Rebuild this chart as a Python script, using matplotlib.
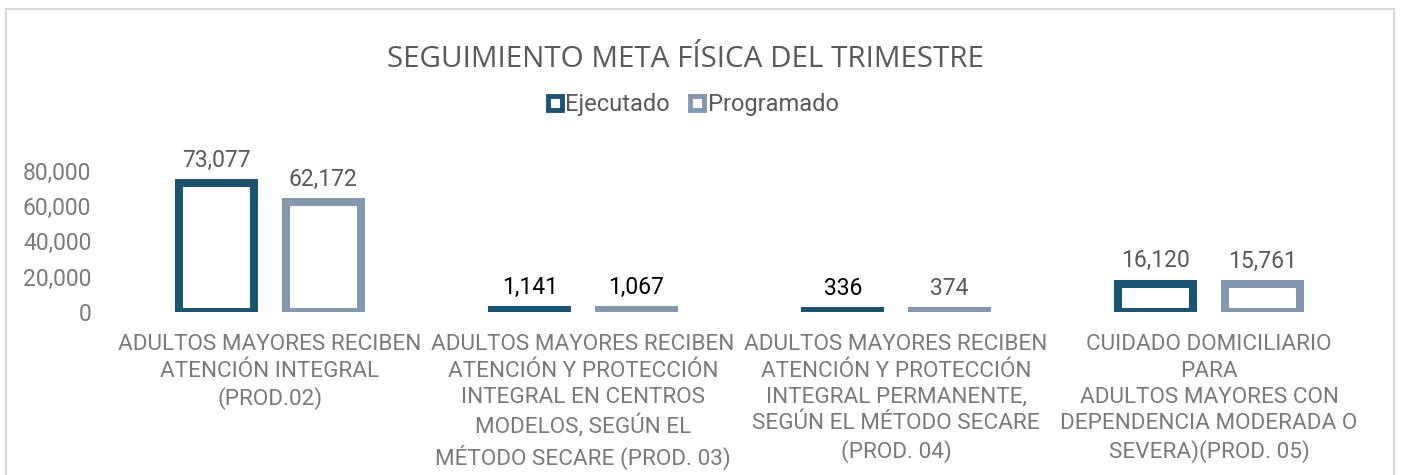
import numpy as np
import matplotlib.pyplot as plt
from matplotlib.lines import Line2D
from matplotlib.patches import Rectangle

categorias = [
    "ADULTOS MAYORES RECIBEN\nATENCIÓN INTEGRAL\n(PROD.02)",
    "ADULTOS MAYORES RECIBEN\nATENCIÓN Y PROTECCIÓN\nINTEGRAL EN CENTROS\nMODELOS, SEGÚN EL\nMÉTODO SECARE (PROD. 03)",
    "ADULTOS MAYORES RECIBEN\nATENCIÓN Y PROTECCIÓN\nINTEGRAL PERMANENTE,\nSEGÚN EL MÉTODO SECARE\n(PROD. 04)",
    "CUIDADO DOMICILIARIO\nPARA\nADULTOS MAYORES CON\nDEPENDENCIA MODERADA O\nSEVERA)(PROD. 05)",
]
ejecutado = [73077, 1141, 336, 16120]
programado = [62172, 1067, 374, 15761]
yticks = [0, 20000, 40000, 60000, 80000]

c_ejec = '#1b5470'
c_prog = '#8497ac'
gris = '#7a7a7a'

plt.rcParams['font.family'] = ['Roboto', 'DejaVu Sans']

fig = plt.figure(figsize=(14.02, 4.75), dpi=100)
ax = fig.add_axes([0.081, 0.343, 0.893, 0.335])

x = np.arange(len(categorias))
w = 0.24
off = 0.17
ax.bar(x - off, ejecutado, w, facecolor='white', edgecolor=c_ejec, linewidth=5.8)
ax.bar(x + off, programado, w, facecolor='white', edgecolor=c_prog, linewidth=5.8)

# etiquetas de datos
negros = [False, True, True, False]
for i in range(len(x)):
    col = 'black' if negros[i] else '#595959'
    ax.annotate(f'{ejecutado[i]:,}', (x[i] - off, ejecutado[i]), xytext=(0, 8),
                textcoords='offset points', ha='center', va='bottom', fontsize=16.5, color=col)
    col2 = 'black' if i == 1 else '#595959'
    ax.annotate(f'{programado[i]:,}', (x[i] + off, programado[i]), xytext=(0, 8),
                textcoords='offset points', ha='center', va='bottom', fontsize=16.5, color=col2)

ax.set_xlim(-0.5, 3.5)
ax.set_ylim(0, 90000)
ax.set_yticks(yticks)
ax.set_yticklabels([f'{v:,}' for v in yticks])
ax.set_xticks(x)
ax.set_xticklabels(categorias, fontsize=16.2, color=gris, linespacing=1.33)
ax.tick_params(axis='y', length=0, pad=16, labelsize=16.5, labelcolor=gris)
ax.tick_params(axis='x', length=0, pad=16)
for s in ax.spines.values():
    s.set_visible(False)

fig.text(0.489, 0.875, 'SEGUIMIENTO META FÍSICA DEL TRIMESTRE', ha='center', va='center',
         fontsize=21.3, color='#595959', family=['Open Sans', 'DejaVu Sans'])

handles = [
    Line2D([], [], marker='s', linestyle='none', markersize=10, markerfacecolor='white',
           markeredgecolor=c_ejec, markeredgewidth=3.5),
    Line2D([], [], marker='s', linestyle='none', markersize=10, markerfacecolor='white',
           markeredgecolor=c_prog, markeredgewidth=3.5),
]
fig.legend(handles, ['Ejecutado', 'Programado'], loc='center', bbox_to_anchor=(0.494, 0.779),
           ncol=2, frameon=False, fontsize=17, handlelength=0.7, handletextpad=0.1,
           columnspacing=0.8, labelcolor='#595959')

# borde del gráfico
fig.patches.append(Rectangle((6 / 1402, -0.05), 1388 / 1402, 1.05 - 9 / 475,
                             transform=fig.transFigure, fill=False,
                             edgecolor='#d9d9d9', linewidth=1.5))

fig.savefig('out.png', dpi=100)
